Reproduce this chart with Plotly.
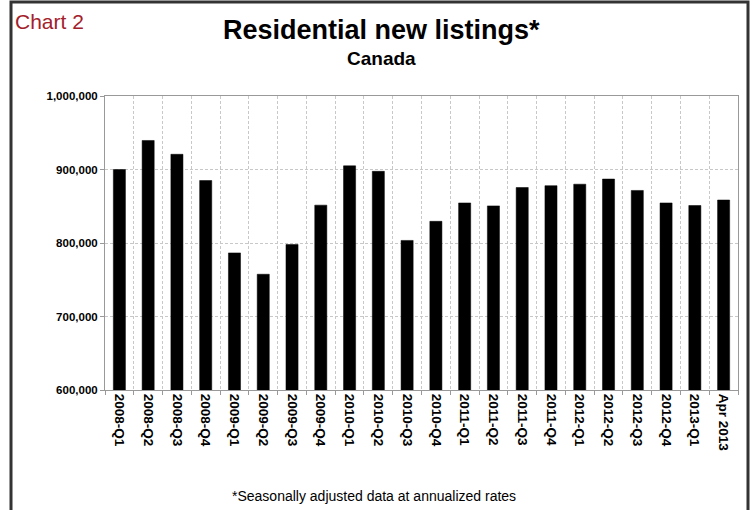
import plotly.graph_objects as go

# quarterly values (seasonally adjusted, annualized)
periods = ['2008-Q1', '2008-Q2', '2008-Q3', '2008-Q4',
           '2009-Q1', '2009-Q2', '2009-Q3', '2009-Q4',
           '2010-Q1', '2010-Q2', '2010-Q3', '2010-Q4',
           '2011-Q1', '2011-Q2', '2011-Q3', '2011-Q4',
           '2012-Q1', '2012-Q2', '2012-Q3', '2012-Q4',
           '2013-Q1', 'Apr 2013']
new_listings = [900000, 939500, 920700, 885000,
                786500, 757500, 798000, 851500,
                905000, 897500, 803500, 829500,
                854500, 850500, 875500, 878000,
                880000, 887000, 871500, 854500,
                851000, 858500]

y_ticks = [600000, 700000, 800000, 900000, 1000000]

W, H = 753, 510
L, R, T, B = 105, 15, 96, 120
pw, ph = W - L - R, H - T - B


def px_x(x):
    return (x - L) / pw


def px_y(y):
    return (H - B - y) / ph


fig = go.Figure()
fig.add_trace(go.Bar(x=periods, y=new_listings,
                     marker=dict(color='black', line=dict(color='black', width=0.5)),
                     hoverinfo='x+y'))

grid = dict(showgrid=True, gridcolor='#c8c8c8', griddash='3px,2px', gridwidth=1,
            showline=True, linecolor='#999999', linewidth=1, mirror=True,
            ticks='outside', ticklen=4, tickcolor='#999999')

fig.update_xaxes(type='category', tickson='boundaries', tickangle=90,
                 tickfont=dict(family='Liberation Sans', size=13.5, color='black', weight='bold'),
                 **grid)
fig.update_yaxes(range=[600000, 1000000], tickvals=y_ticks, tickformat=',',
                 tickfont=dict(family='Liberation Sans', size=11.5, color='black', weight='bold'),
                 zeroline=False, **grid)

annotations = [
    dict(text='Chart 2', x=px_x(13), y=px_y(22), xanchor='left', yanchor='middle',
         font=dict(family='Liberation Sans', size=21, color='#a3202a')),
    dict(text='<b>Residential new listings*</b>', x=px_x(381), y=px_y(30),
         xanchor='center', yanchor='middle',
         font=dict(family='Liberation Sans', size=27, color='black')),
    dict(text='<b>Canada</b>', x=px_x(381), y=px_y(58), xanchor='center', yanchor='middle',
         font=dict(family='Liberation Sans', size=19, color='black')),
    dict(text='*Seasonally adjusted data at annualized rates', x=px_x(374), y=px_y(496),
         xanchor='center', yanchor='middle',
         font=dict(family='Liberation Sans', size=14, color='black')),
]
for a in annotations:
    a.update(xref='paper', yref='paper', showarrow=False)

fig.update_layout(
    width=W, height=H,
    margin=dict(l=L, r=R, t=T, b=B),
    paper_bgcolor='white', plot_bgcolor='white',
    bargap=0.58, showlegend=False,
    annotations=annotations,
    shapes=[dict(type='rect', xref='paper', yref='paper',
                 x0=px_x(11), x1=px_x(748), y0=px_y(530), y1=px_y(2),
                 line=dict(color='#333333', width=3), layer='above')],
)

# page body has a default 8px margin, drop it so the figure sits at 0,0
fig.write_html("out.html", config={'displayModeBar': False},
               post_script="document.body.style.margin='0px';")
